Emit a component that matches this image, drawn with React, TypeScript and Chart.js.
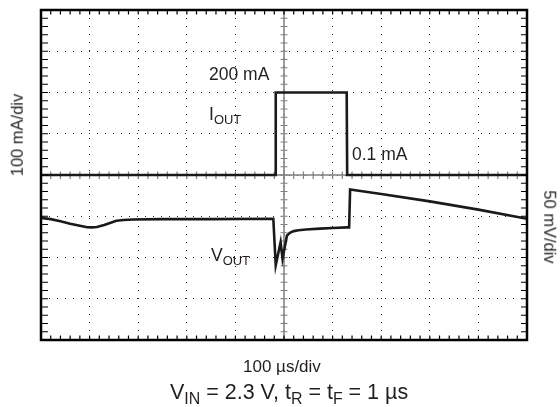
import React, { useEffect, useRef } from "react";
import { Chart, registerables } from "chart.js";
Chart.register(...registerables);

// Oscilloscope screen: 10 horizontal divisions, 8 vertical divisions (centre = 0)
const X_DIVS = [0, 10];
const Y_DIVS = [-4, 4];

// I_OUT trace (divisions, 100 mA/div)
const ioutX = [0, 4.83, 4.83, 6.29, 6.3, 10];
const ioutY = [0, 0, 2, 2, 0, 0];

// V_OUT trace (divisions, 50 mV/div)
const voutX = [0, 0.2, 0.4, 0.6, 0.8, 0.95, 1.05, 1.15, 1.3, 1.45, 1.55, 1.7, 1.9, 2.5, 3.5, 4.78, 4.83, 4.93, 4.97, 5.06, 5.12, 5.2, 5.3, 5.45, 5.74, 6.0, 6.3, 6.34, 6.36, 7.0, 8.0, 9.0, 10];
const voutY = [-1.04, -1.07, -1.12, -1.18, -1.23, -1.265, -1.27, -1.26, -1.21, -1.15, -1.11, -1.09, -1.08, -1.07, -1.07, -1.06, -2.19, -1.63, -2.03, -1.47, -1.4, -1.36, -1.34, -1.32, -1.3, -1.285, -1.27, -1.27, -0.35, -0.46, -0.64, -0.84, -1.06];

const FONT = '"Liberation Sans", Arial, Helvetica, sans-serif';

const scopePlugin = {
  id: "scopePlugin",
  beforeDatasetsDraw(chart: any) {
    const { ctx, scales } = chart;
    const xs = scales.x, ys = scales.y;
    const cx = xs.getPixelForValue(5), cy = ys.getPixelForValue(0);
    ctx.save();
    ctx.strokeStyle = "#808080";
    ctx.lineWidth = 1.5;
    ctx.beginPath();
    ctx.moveTo(cx, ys.top); ctx.lineTo(cx, ys.bottom);
    ctx.moveTo(xs.left, cy); ctx.lineTo(xs.right, cy);
    ctx.stroke();
    ctx.lineWidth = 1.2;
    ctx.beginPath();
    for (let i = 1; i < 40; i++) {
      const y = ys.getPixelForValue(-4 + i * 0.2);
      ctx.moveTo(cx - 3.5, y); ctx.lineTo(cx + 3.5, y);
    }
    for (let i = 1; i < 50; i++) {
      const x = xs.getPixelForValue(i * 0.2);
      ctx.moveTo(x, cy - 3.5); ctx.lineTo(x, cy + 4);
    }
    ctx.stroke();
    ctx.restore();
  },
  afterDatasetsDraw(chart: any) {
    const { ctx, scales } = chart;
    const xs = scales.x, ys = scales.y;
    const L = xs.left, R = xs.right, T = ys.top, B = ys.bottom;
    ctx.save();
    ctx.strokeStyle = "#000";
    ctx.lineWidth = 1.2;
    ctx.beginPath();
    for (let i = 1; i < 50; i++) {
      const x = xs.getPixelForValue(i * 0.2);
      ctx.moveTo(x, T); ctx.lineTo(x, T + 4.5);
      ctx.moveTo(x, B); ctx.lineTo(x, B - 4.5);
    }
    for (let i = 1; i < 40; i++) {
      const y = ys.getPixelForValue(-4 + i * 0.2);
      ctx.moveTo(L, y); ctx.lineTo(L + 7, y);
      ctx.moveTo(R, y); ctx.lineTo(R - 6, y);
    }
    ctx.stroke();
    ctx.lineWidth = 2.5;
    ctx.strokeRect(L, T, R - L, B - T);
    ctx.restore();
  },
};

const sub = { fontSize: "0.74em", position: "relative" as const, top: "0.32em" };

function Label(props: { left: number; base: number; size: number; children: any }) {
  const { left, base, size, children } = props;
  return (
    <div
      style={{
        position: "absolute",
        left,
        top: base - 0.8465 * size,
        fontSize: size,
        lineHeight: 1,
        fontFamily: FONT,
        color: "#231f20",
        whiteSpace: "nowrap",
      }}
    >
      {children}
    </div>
  );
}

function Rotated(props: { cx: number; cy: number; size: number; deg: number; children: any }) {
  const { cx, cy, size, deg, children } = props;
  return (
    <div
      style={{
        position: "absolute",
        left: cx,
        top: cy,
        transform: `translate(-50%, -50%) rotate(${deg}deg)`,
        fontSize: size,
        lineHeight: 1,
        fontFamily: FONT,
        color: "#231f20",
        whiteSpace: "nowrap",
      }}
    >
      {children}
    </div>
  );
}

export default function App() {
  const ref = useRef<HTMLCanvasElement | null>(null);
  useEffect(() => {
    if (!ref.current) return;
    const chart = new Chart(ref.current, {
      type: "scatter",
      data: {
        datasets: [
          {
            label: "IOUT",
            data: ioutX.map((x, i) => ({ x, y: ioutY[i] })),
            showLine: true,
            borderColor: "#1a1a1a",
            borderWidth: 2.6,
            pointRadius: 0,
            tension: 0,
          },
          {
            label: "VOUT",
            data: voutX.map((x, i) => ({ x, y: voutY[i] })),
            showLine: true,
            borderColor: "#1a1a1a",
            borderWidth: 2.6,
            pointRadius: 0,
            tension: 0,
          },
        ],
      },
      options: {
        animation: false,
        responsive: false,
        maintainAspectRatio: false,
        layout: { padding: { left: 41, top: 10, right: 33, bottom: 67 } },
        plugins: { legend: { display: false }, tooltip: { enabled: false }, title: { display: false } },
        scales: {
          x: {
            type: "linear",
            min: X_DIVS[0],
            max: X_DIVS[1],
            ticks: { stepSize: 1, display: false },
            grid: { color: "#222", lineWidth: 1, drawTicks: false },
            border: { display: false, dash: [1, 7] },
          },
          y: {
            type: "linear",
            min: Y_DIVS[0],
            max: Y_DIVS[1],
            ticks: { stepSize: 1, display: false },
            grid: { color: "#222", lineWidth: 1, drawTicks: false },
            border: { display: false, dash: [1, 7] },
          },
        },
      },
      plugins: [scopePlugin],
    } as any);
    return () => chart.destroy();
  }, []);

  return (
    <div style={{ position: "absolute", left: 0, top: 0, width: 560, height: 407, background: "#fff" }}>
      <canvas ref={ref} width={560} height={407} style={{ position: "absolute", left: 0, top: 0 }} />
      <Label left={209} base={81} size={17.5}>200 mA</Label>
      <Label left={209} base={121} size={17.5}>
        I<span style={sub}>OUT</span>
      </Label>
      <Label left={352} base={161} size={17.5}>0.1 mA</Label>
      <Label left={211} base={262} size={17.5}>
        V<span style={sub}>OUT</span>
      </Label>
      <Rotated cx={17} cy={135} size={16.5} deg={-90}>100 mA/div</Rotated>
      <Rotated cx={550} cy={227} size={16.5} deg={90}>50 mV/div</Rotated>
      <Label left={243} base={372} size={17}>100 µs/div</Label>
      <Label left={170} base={400} size={21.5}>
        V<span style={sub}>IN</span> = 2.3 V, t<span style={sub}>R</span> = t<span style={sub}>F</span> = 1 µs
      </Label>
    </div>
  );
}
